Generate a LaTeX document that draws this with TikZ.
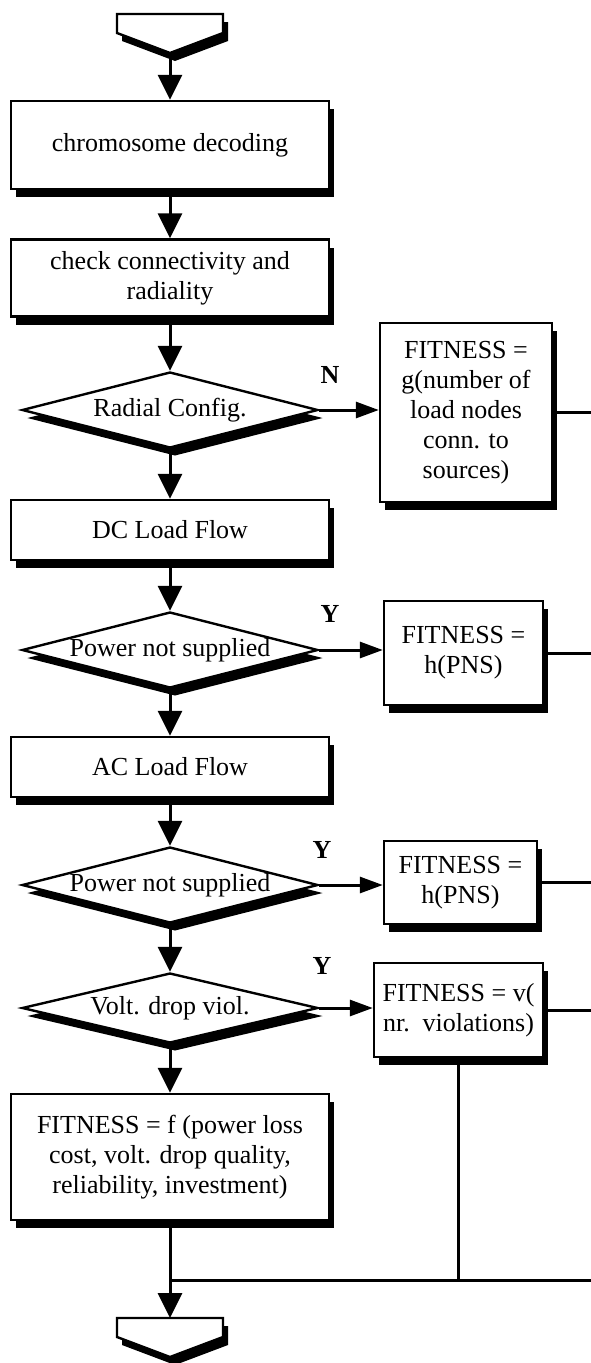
\documentclass[tikz,border=0pt]{standalone}
\usepackage{fontspec}
\setmainfont{Liberation Serif}
\usetikzlibrary{shapes.geometric,shadows,arrows.meta}

\tikzset{
  castshadow/.style={drop shadow={shadow xshift=5pt,shadow yshift=-8pt,fill=black,opacity=1}},
  procbox/.style={draw,line width=2.4pt,fill=white,castshadow,align=center,inner sep=2pt},
  decision/.style={draw,diamond,aspect=3.9,line width=2.4pt,fill=white,castshadow,
                   inner sep=0pt,minimum width=296pt,minimum height=76pt},
  flow/.style={line width=3pt,-{Triangle[length=25pt,width=24pt]}},
  branch/.style={line width=3pt,-{Triangle[length=23pt,width=16pt]}},
  wire/.style={line width=3pt},
  answer/.style={font=\fontsize{26}{30}\selectfont\bfseries},
  % off-page connector (chevron) with its shadow; origin at the top centre
  offpage/.pic={
    \fill[shift={(5,8)}] (-53,0) -- (53,0) -- (53,19) -- (0,39) -- (-53,19) -- cycle;
    \draw[line width=2.4pt,fill=white] (-53,0) -- (53,0) -- (53,19) -- (0,39) -- (-53,19) -- cycle;
    \coordinate (-top) at (0,0);
    \coordinate (-tip) at (0,39);
  }
}

\begin{document}
\begin{tikzpicture}[x=1pt,y=-1pt,every node/.style={font=\fontsize{26}{30}\selectfont}]
\useasboundingbox (0,0) rectangle (591,1363);

% entry and exit connectors
\pic (start) at (170,14) {offpage};
\pic (end) at (170,1318) {offpage};

% main column
\node[procbox,minimum width=318pt,minimum height=88pt] (decode) at (170,145) {chromosome decoding};
\node[procbox,minimum width=318pt,minimum height=77pt] (check) at (170,278) {check connectivity and\\radiality};
\node[decision] (radial) at (170,410) {Radial Config.};
\node[procbox,minimum width=318pt,minimum height=60pt] (dc) at (170,530) {DC Load Flow};
\node[decision] (pns1) at (170,650) {Power not supplied};
\node[procbox,minimum width=318pt,minimum height=60pt] (ac) at (170,767) {AC Load Flow};
\node[decision] (pns2) at (170,885) {Power not supplied};
\node[decision,minimum height=70pt] (volt) at (170,1008) {Volt. drop viol.};
\node[procbox,minimum width=318pt,minimum height=126pt] (fitf) at (170,1157)
  {FITNESS = f (power loss\\cost, volt. drop quality,\\reliability, investment)};

% penalty boxes
\node[procbox,minimum width=172pt,minimum height=179pt] (fitg) at (466,412.5)
  {FITNESS =\\g(number of\\load nodes\\conn. to\\sources)};
\node[procbox,minimum width=159pt,minimum height=104pt] (fith1) at (463.5,653) {FITNESS =\\h(PNS)};
\node[procbox,minimum width=153pt,minimum height=83pt] (fith2) at (460.5,882.5) {FITNESS =\\h(PNS)};
\node[procbox,minimum width=169pt,minimum height=94pt] (fitv) at (458.5,1010) {FITNESS = v(\\nr.~~violations)};

% branch answers
\node[answer] (lblN) at (330,375) {N};
\node[answer] (lblY1) at (330,614) {Y};
\node[answer] (lblY2) at (322,850) {Y};
\node[answer] (lblY3) at (322,966) {Y};

% main flow
\draw[flow] (start-tip) -- (decode.north);
\draw[flow] (decode.south) -- (check.north);
\draw[flow] (check.south) -- (radial.north);
\draw[flow] (radial.south) -- (dc.north);
\draw[flow] (dc.south) -- (pns1.north);
\draw[flow] (pns1.south) -- (ac.north);
\draw[flow] (ac.south) -- (pns2.north);
\draw[flow] (pns2.south) -- (volt.north);
\draw[flow] (volt.south) -- (fitf.north);
\draw[flow] (fitf.south) -- (end-top);

% branches to the penalty boxes
\draw[branch] (radial.east) -- (radial.east -| fitg.west);
\draw[branch] (pns1.east) -- (pns1.east -| fith1.west);
\draw[branch] (pns2.east) -- (pns2.east -| fith2.west);
\draw[branch] (volt.east) -- (volt.east -| fitv.west);

% collecting lines
\coordinate (rim) at (591,0);
\coordinate (bus) at (0,1280);
\draw[wire] (fitg.east) -- (fitg.east -| rim);
\draw[wire] (fith1.east) -- (fith1.east -| rim);
\draw[wire] (fith2.east) -- (fith2.east -| rim);
\draw[wire] (fitv.east) -- (fitv.east -| rim);
\draw[wire] (fitv.south) -- (fitv.south |- bus);
\draw[wire] (fitf.south |- bus) -- (bus -| rim);
\end{tikzpicture}
\end{document}
